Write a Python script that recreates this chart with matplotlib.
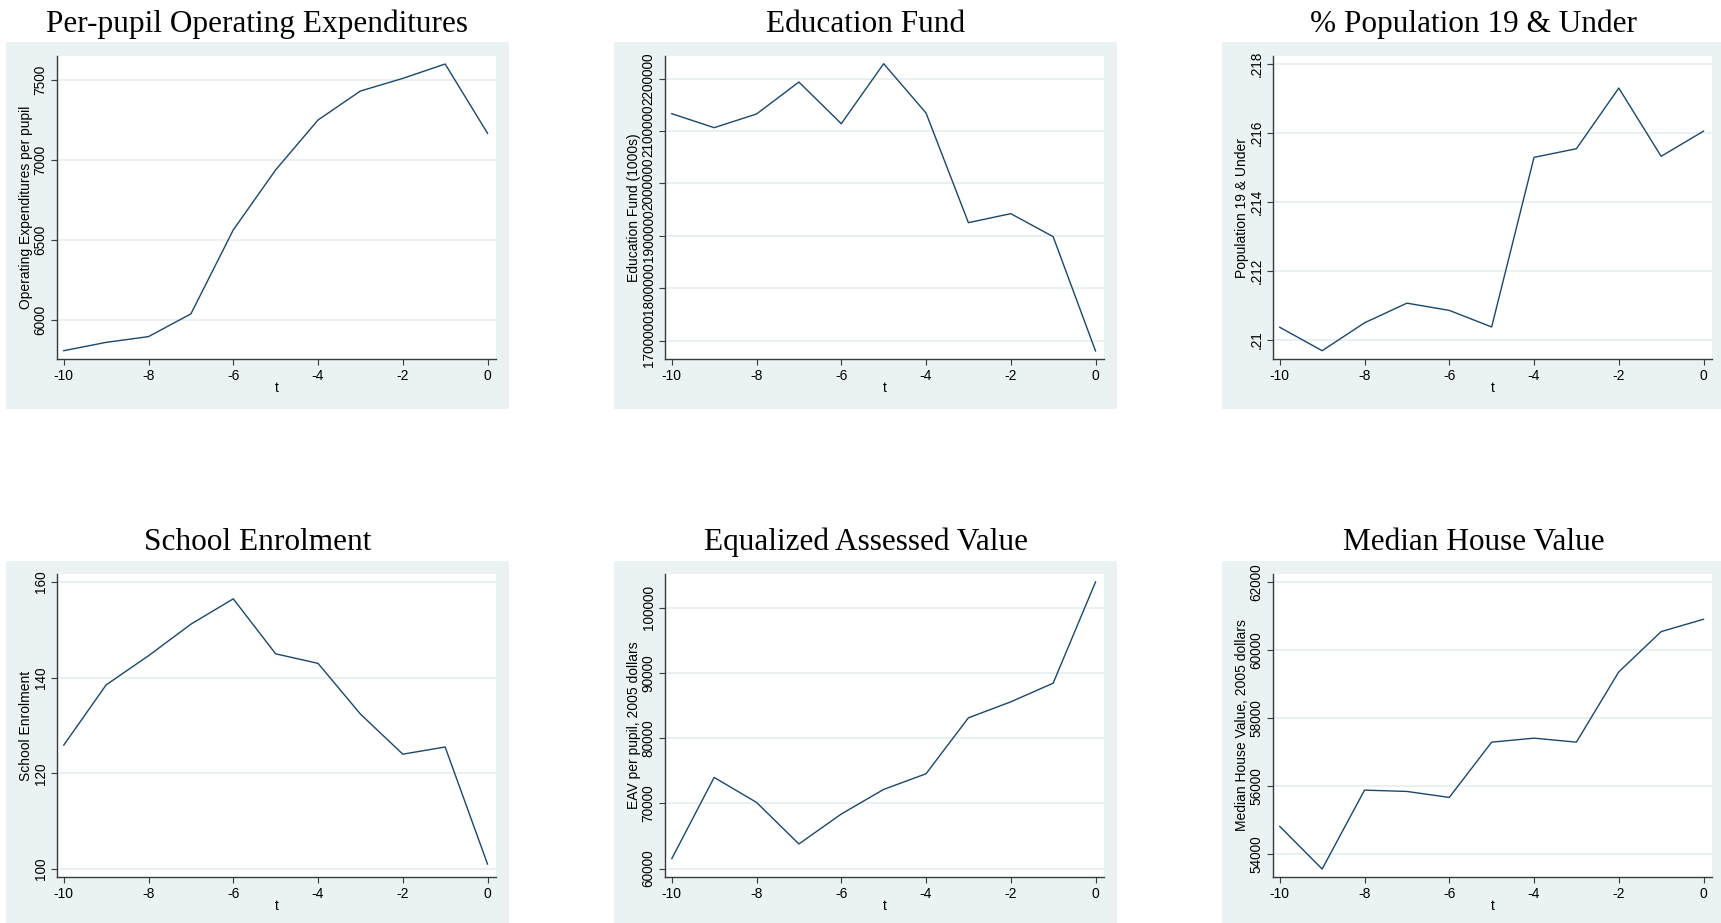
import matplotlib
matplotlib.use("Agg")
import matplotlib.pyplot as plt
from matplotlib.patches import Rectangle

# ---------------- data ----------------
t = [-10, -9, -8, -7, -6, -5, -4, -3, -2, -1, 0]

opex = [5810, 5862, 5898, 6040, 6565, 6940, 7252, 7433, 7512, 7602, 7169]
edfund = [2133200, 2106500, 2132600, 2193600, 2114100, 2228600, 2134500,
          1925200, 1942400, 1898500, 1680300]
pop19 = [0.21036, 0.20968, 0.21049, 0.21106, 0.21085, 0.21037, 0.21529,
         0.21554, 0.21730, 0.21532, 0.21605]
enrol = [125.9, 138.5, 144.6, 151.2, 156.5, 145.0, 143.0, 132.4, 124.0, 125.5, 101.0]
eav = [61530, 73980, 70150, 63780, 68370, 72140, 74540, 83110, 85560, 88420, 103930]
house = [54814, 53559, 55882, 55843, 55667, 57294, 57412, 57294, 59363, 60549, 60912]

titles = ["Per-pupil Operating Expenditures", "Education Fund", "% Population 19 & Under",
          "School Enrolment", "Equalized Assessed Value", "Median House Value"]
ylabels = ["Operating Expenditures per pupil", "Education Fund (1000s)", "Population 19 & Under",
           "School Enrolment", "EAV per pupil, 2005 dollars", "Median House Value, 2005 dollars"]
series = [opex, edfund, pop19, enrol, eav, house]

yticks = [[6000, 6500, 7000, 7500],
          [1700000, 1800000, 1900000, 2000000, 2100000, 2200000],
          [0.21, 0.212, 0.214, 0.216, 0.218],
          [100, 120, 140, 160],
          [60000, 70000, 80000, 90000, 100000],
          [54000, 56000, 58000, 60000, 62000]]
yticklabels = [["6000", "6500", "7000", "7500"],
               ["1700000", "1800000", "1900000", "2000000", "2100000", "2200000"],
               [".21", ".212", ".214", ".216", ".218"],
               ["100", "120", "140", "160"],
               ["60000", "70000", "80000", "90000", "100000"],
               ["54000", "56000", "58000", "60000", "62000"]]
ylims = [(5758, 7652), (1665000, 2243300), (0.20944, 0.21823),
         (98.3, 161.7), (58720, 105150), (53324, 62245)]
xticks = [-10, -8, -6, -4, -2, 0]
xticklabels = ["-10", "-8", "-6", "-4", "-2", "0"]

# ---------------- style ----------------
BG = "#eaf2f3"
GRID = "#e3ecee"
LINE = "#1a476f"
AXC = "#3a3a3a"
SANS = "Liberation Sans"
SERIF = "Liberation Serif"

W, H = 1721, 923
fig = plt.figure(figsize=(W / 100, H / 100), dpi=100)
fig.patch.set_facecolor("white")

col_x = [6, 614, 1222]
row_y = [42, 561]
box_w, box_h = 503, 367
plot_top = [56, 574]
plot_bot = [359, 877]
title_base = [32, 550]

for i in range(6):
    r, c = divmod(i, 3)
    bx, by = col_x[c], row_y[r]
    fig.add_artist(Rectangle((bx / W, 1 - (by + box_h) / H), box_w / W, box_h / H,
                             transform=fig.transFigure, facecolor=BG,
                             edgecolor="none", zorder=0))
    x0, x1 = bx + 51, bx + 490
    y0, y1 = plot_top[r], plot_bot[r]
    ax = fig.add_axes([x0 / W, 1 - y1 / H, (x1 - x0) / W, (y1 - y0) / H])
    ax.set_facecolor("white")
    ax.plot(t, series[i], color=LINE, lw=1.0, zorder=3)
    ax.set_xlim(-10.16, 0.2)
    ax.set_ylim(*ylims[i])
    ax.set_xticks(xticks, xticklabels, fontfamily=SANS, fontsize=10)
    ax.set_yticks(yticks[i], yticklabels[i], fontfamily=SANS, fontsize=9.8,
                  rotation=90, va="center")
    ax.grid(axis="y", color=GRID, lw=1.1, zorder=1)
    ax.set_axisbelow(True)
    for s in ("top", "right"):
        ax.spines[s].set_visible(False)
    for s in ("left", "bottom"):
        ax.spines[s].set_color(AXC)
        ax.spines[s].set_linewidth(1.0)
    ax.tick_params(axis="x", direction="out", length=4.5, width=0.8,
                   color=AXC, pad=3, labelcolor="black")
    ax.tick_params(axis="y", direction="out", length=4.5, width=0.8,
                   color=AXC, pad=2.3, labelcolor="black")
    ax.set_xlabel("t", fontfamily=SANS, fontsize=10, labelpad=-1.5)
    ax.set_ylabel(ylabels[i], fontfamily=SANS, fontsize=10, va="center")
    ax.yaxis.set_label_coords(-31.0 / (x1 - x0), 0.5)
    fig.text((bx + box_w / 2) / W, 1 - title_base[r] / H, titles[i],
             ha="center", va="baseline", fontfamily=SERIF, fontsize=22.5)

fig.savefig("out.png", dpi=100, facecolor="white")
